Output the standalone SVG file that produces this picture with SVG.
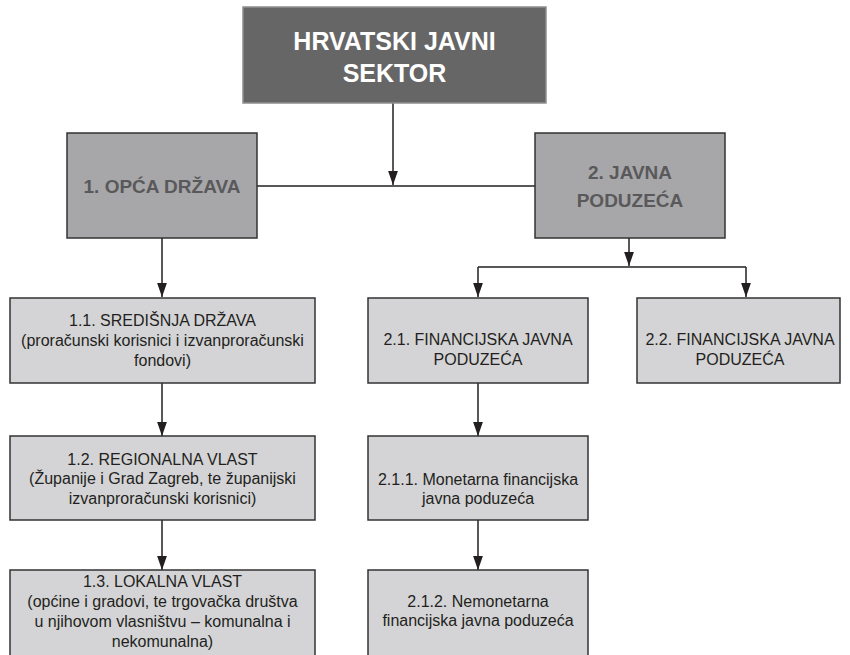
<svg xmlns="http://www.w3.org/2000/svg" width="850" height="655" viewBox="0 0 850 655">
<style>
.top{fill:#666666;stroke:#8f8f8f;stroke-width:1.5}
.l2{fill:#a7a7a9;stroke:#333333;stroke-width:1.5}
.l3{fill:#d4d4d6;stroke:#333333;stroke-width:1.5}
.tt{font-family:"Liberation Sans",Arial,sans-serif;font-weight:bold;font-size:25px;fill:#ffffff;text-anchor:middle}
.t2{font-family:"Liberation Sans",Arial,sans-serif;font-weight:bold;font-size:19px;fill:#59595b;text-anchor:middle}
.t3{font-family:"Liberation Sans",Arial,sans-serif;font-size:16px;fill:#231f20;text-anchor:middle}
.c{fill:none;stroke:#231f20;stroke-width:1.5}
</style>
<defs>
<marker id="ah" markerUnits="userSpaceOnUse" markerWidth="14" markerHeight="20" refX="20" refY="7" orient="auto" viewBox="0 0 20 14">
<path d="M0,0 L20,7 L0,14 Z" fill="#231f20"/>
</marker>
</defs>
<g id="connectors">
<path class="c" d="M393,103 V185" marker-end="url(#ah)"/>
<path class="c" d="M257,186 H535"/>
<path class="c" d="M162,238 V297" marker-end="url(#ah)"/>
<path class="c" d="M629,238 V266" marker-end="url(#ah)"/>
<path class="c" d="M478,267 H746"/>
<path class="c" d="M478,267 V297" marker-end="url(#ah)"/>
<path class="c" d="M746,267 V297" marker-end="url(#ah)"/>
<path class="c" d="M162,383 V436" marker-end="url(#ah)"/>
<path class="c" d="M162,520 V570" marker-end="url(#ah)"/>
<path class="c" d="M478,383 V436" marker-end="url(#ah)"/>
<path class="c" d="M478,520 V570" marker-end="url(#ah)"/>
</g>
<g id="n0">
<rect class="top" x="243" y="7" width="303" height="96"/>
<text class="tt" x="394.5" y="50">HRVATSKI JAVNI</text>
<text class="tt" x="394.5" y="82">SEKTOR</text>
</g>
<g id="n1">
<rect class="l2" x="67" y="133" width="190" height="105"/>
<text class="t2" x="162" y="193">1. OPĆA DRŽAVA</text>
</g>
<g id="n2">
<rect class="l2" x="535" y="133" width="190" height="105"/>
<text class="t2" x="630" y="179">2. JAVNA</text>
<text class="t2" x="630" y="207">PODUZEĆA</text>
</g>
<g id="n11">
<rect class="l3" x="10" y="298" width="305" height="85"/>
<text class="t3" x="162.5" y="326">1.1. SREDIŠNJA DRŽAVA</text>
<text class="t3" x="162.5" y="346">(proračunski korisnici i izvanproračunski</text>
<text class="t3" x="162.5" y="366">fondovi)</text>
</g>
<g id="n12">
<rect class="l3" x="10" y="436" width="305" height="84"/>
<text class="t3" x="162.5" y="465">1.2. REGIONALNA VLAST</text>
<text class="t3" x="162.5" y="484">(Županije i Grad Zagreb, te županijski</text>
<text class="t3" x="162.5" y="504">izvanproračunski korisnici)</text>
</g>
<g id="n13">
<rect class="l3" x="10" y="570" width="305" height="95"/>
<text class="t3" x="162.5" y="587">1.3. LOKALNA VLAST</text>
<text class="t3" x="162.5" y="607">(općine i gradovi, te trgovačka društva</text>
<text class="t3" x="162.5" y="627">u njihovom vlasništvu – komunalna i</text>
<text class="t3" x="162.5" y="647">nekomunalna)</text>
</g>
<g id="n21">
<rect class="l3" x="368" y="298" width="220" height="85"/>
<text class="t3" x="478" y="345">2.1. FINANCIJSKA JAVNA</text>
<text class="t3" x="478" y="365">PODUZEĆA</text>
</g>
<g id="n22">
<rect class="l3" x="637" y="298" width="203" height="85"/>
<text class="t3" x="740" y="345">2.2. FINANCIJSKA JAVNA</text>
<text class="t3" x="740" y="365">PODUZEĆA</text>
</g>
<g id="n211">
<rect class="l3" x="368" y="436" width="220" height="84"/>
<text class="t3" x="478" y="485">2.1.1. Monetarna financijska</text>
<text class="t3" x="478" y="504">javna poduzeća</text>
</g>
<g id="n212">
<rect class="l3" x="368" y="570" width="220" height="95"/>
<text class="t3" x="478" y="607">2.1.2. Nemonetarna</text>
<text class="t3" x="478" y="626">financijska javna poduzeća</text>
</g>
</svg>
